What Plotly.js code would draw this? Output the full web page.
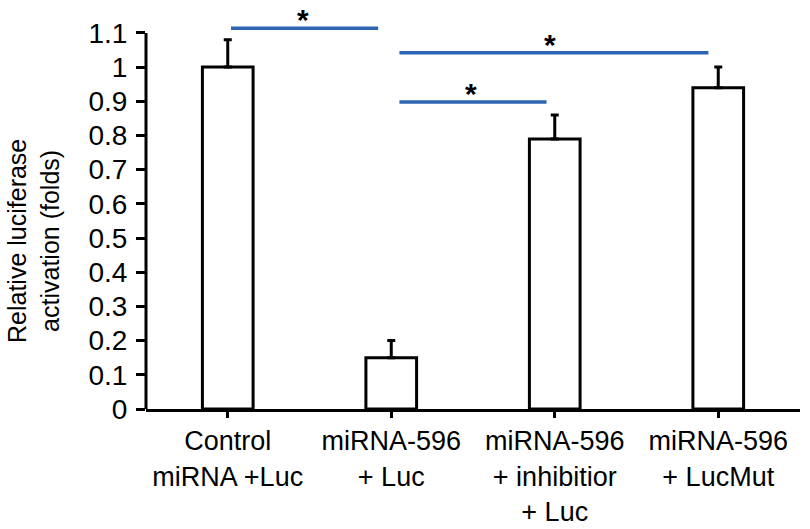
<!DOCTYPE html>
<html>
<head>
<meta charset="utf-8">
<script src="https://cdn.plot.ly/plotly-3.0.1.min.js"></script>
<style>html,body{margin:0;padding:0;background:#fff;}#chart{width:810px;height:529px;}</style>
</head>
<body>
<div id="chart"></div>
<script>
// ---- data ----
var categories = ["Control<br>miRNA +Luc", "miRNA-596<br>+ Luc", "miRNA-596<br>+ inhibitior<br>+ Luc", "miRNA-596<br>+ LucMut"];
var values = [1.0, 0.15, 0.79, 0.94];
var errorsUp = [0.08, 0.05, 0.07, 0.06];
var yTickVals = [0, 0.1, 0.2, 0.3, 0.4, 0.5, 0.6, 0.7, 0.8, 0.9, 1.0, 1.1];
var yTickText = ["0", "0.1", "0.2", "0.3", "0.4", "0.5", "0.6", "0.7", "0.8", "0.9", "1", "1.1"];
// significance brackets: start/end (category index), height, star position
var sigX0 = [0.02, 1.05, 1.05];
var sigX1 = [0.92, 2.94, 1.95];
var sigY = [1.114, 1.042, 0.898];
var starX = [0.46, 1.97, 1.49];
var starLabel = ["*", "*", "*"];

var trace = {
  type: 'bar',
  x: [0, 1, 2, 3],
  y: values,
  width: 0.31,
  marker: {color: '#ffffff', line: {color: '#000000', width: 3}},
  error_y: {type: 'data', symmetric: false, array: errorsUp, arrayminus: [0,0,0,0], color: '#000000', thickness: 3, width: 4},
  hoverinfo: 'none'
};

var shapes = [];
// y-axis line only up to 1.1
shapes.push({type: 'line', xref: 'paper', yref: 'y', x0: 0, x1: 0, y0: 0, y1: yTickVals[yTickVals.length-1], line: {color: '#000', width: 3}});
var annotations = [];
for (var i = 0; i < sigX0.length; i++) {
  shapes.push({type: 'line', xref: 'x', yref: 'y', x0: sigX0[i], x1: sigX1[i], y0: sigY[i], y1: sigY[i], line: {color: '#2f64b3', width: 3.5}});
  annotations.push({xref: 'x', yref: 'y', x: starX[i], y: sigY[i], text: '<b>' + starLabel[i] + '</b>', showarrow: false, yanchor: 'bottom', yshift: -10, font: {family: 'Liberation Sans, Arial, sans-serif', size: 30, color: '#000'}});
}
annotations.push({xref: 'paper', yref: 'y', x: -0.172, y: 0.49, xanchor: 'center', yanchor: 'middle', textangle: -90,
  text: 'Relative luciferase<br>activation (folds)', showarrow: false,
  font: {family: 'Liberation Sans, Arial, sans-serif', size: 25, color: '#000'}});

var layout = {
  width: 810, height: 529,
  margin: {l: 146, r: 10, t: 9, b: 120},
  paper_bgcolor: '#fff', plot_bgcolor: '#fff',
  showlegend: false,
  font: {family: 'Liberation Sans, Arial, sans-serif', size: 27, color: '#000'},
  xaxis: {
    range: [-0.5, 3.5], tickmode: 'array', tickvals: [0, 1, 2, 3], ticktext: categories,
    showline: true, linecolor: '#000', linewidth: 3, ticks: 'outside', tickson: 'boundaries',
    ticklen: 6, tickwidth: 3, tickcolor: '#000', showgrid: false, zeroline: false,
    tickfont: {size: 27}
  },
  yaxis: {
    range: [0, 1.17], tickmode: 'array', tickvals: yTickVals, ticktext: yTickText,
    showline: false, ticks: 'outside', ticklen: 9, tickwidth: 3, tickcolor: '#000',
    showgrid: false, zeroline: false, tickfont: {size: 28}, ticklabelstandoff: 3
  },
  shapes: shapes,
  annotations: annotations
};

Plotly.newPlot('chart', [trace], layout, {displayModeBar: false, staticPlot: true});
</script>
</body>
</html>
